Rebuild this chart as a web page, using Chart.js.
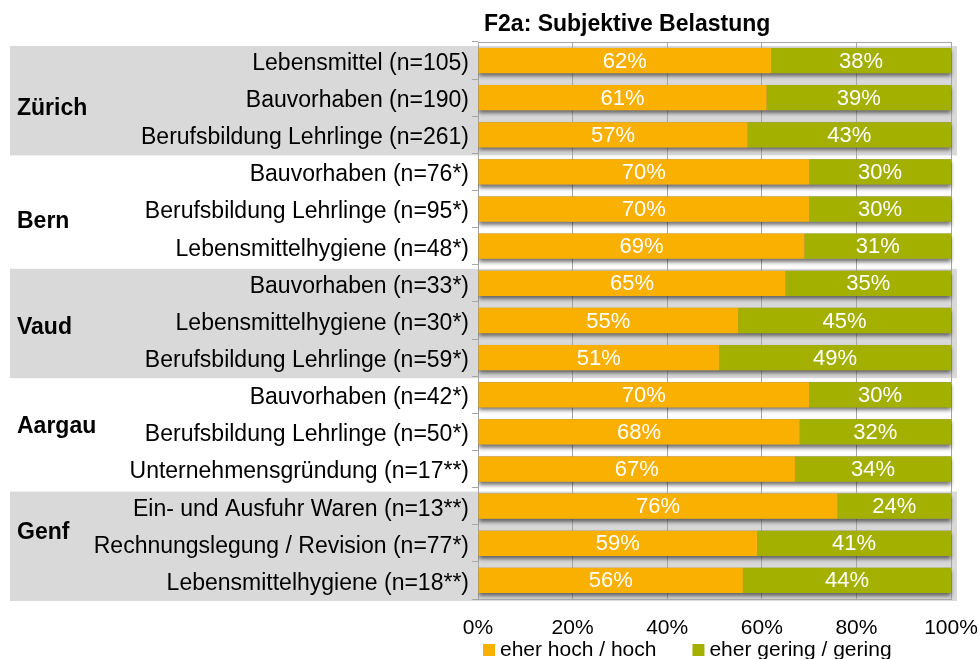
<!DOCTYPE html>
<html>
<head>
<meta charset="utf-8">
<script src="https://cdn.jsdelivr.net/npm/chart.js@4.4.1/dist/chart.umd.min.js"></script>
<style>
  html, body { margin: 0; padding: 0; background: #fff; }
  #wrap { width: 980px; height: 659px; }
</style>
</head>
<body>
<div id="wrap"><canvas id="chart" width="980" height="659"></canvas></div>
<script>
// data
const title = "F2a: Subjektive Belastung";
const groups = ["Zürich", "Bern", "Vaud", "Aargau", "Genf"];
const groupSizes = [3, 3, 3, 3, 3];
const categories = [
    "Lebensmittel (n=105)",
    "Bauvorhaben (n=190)",
    "Berufsbildung Lehrlinge (n=261)",
    "Bauvorhaben (n=76*)",
    "Berufsbildung Lehrlinge (n=95*)",
    "Lebensmittelhygiene (n=48*)",
    "Bauvorhaben (n=33*)",
    "Lebensmittelhygiene (n=30*)",
    "Berufsbildung Lehrlinge (n=59*)",
    "Bauvorhaben (n=42*)",
    "Berufsbildung Lehrlinge (n=50*)",
    "Unternehmensgründung (n=17**)",
    "Ein- und Ausfuhr Waren (n=13**)",
    "Rechnungslegung / Revision (n=77*)",
    "Lebensmittelhygiene (n=18**)",
];
const seriesNames = ["eher hoch / hoch", "eher gering / gering"];
const hochValues = [62, 61, 57, 70, 70, 69, 65, 55, 51, 70, 68, 67, 76, 59, 56];
const geringValues = [38, 39, 43, 30, 30, 31, 35, 45, 49, 30, 32, 34, 24, 41, 44];
const xTicks = [0, 20, 40, 60, 80, 100];

const ORANGE = "#F9B000";
const GREEN = "#A3B000";
const BAND = "#D9D9D9";
const GRID = "#A6A6A6";
const FONT = "'Liberation Sans', Arial, sans-serif";

// gray bands behind groups + group names
const bandsPlugin = {
    id: "bands",
    beforeDraw(chart) {
        const ctx = chart.ctx;
        const y = chart.scales.y;
        const step = y.getPixelForValue(1) - y.getPixelForValue(0);
        let start = 0;
        ctx.save();
        groups.forEach((g, gi) => {
            const n = groupSizes[gi];
            const top = y.getPixelForValue(start) - step / 2;
            const bottom = y.getPixelForValue(start + n - 1) + step / 2;
            if (gi % 2 === 0) {
                ctx.fillStyle = BAND;
                ctx.fillRect(10, top + 4, chart.chartArea.right + 6 - 10, bottom - top - 2);
            }
            start += n;
        });
        ctx.restore();
    },
    afterDraw(chart) {
        const ctx = chart.ctx;
        const y = chart.scales.y;
        const step = y.getPixelForValue(1) - y.getPixelForValue(0);
        // small nudges, the original labels are not exactly centred
        const nudge = [0.3, 0.35, 0.2, -0.15, -0.3];
        let start = 0;
        ctx.save();
        ctx.font = "bold 23px " + FONT;
        ctx.fillStyle = "#000";
        ctx.textBaseline = "middle";
        ctx.textAlign = "left";
        groups.forEach((g, gi) => {
            const n = groupSizes[gi];
            const mid = y.getPixelForValue(start + (n - 1) / 2) + nudge[gi] * step;
            ctx.fillText(g, 17, mid);
            start += n;
        });
        ctx.restore();
    },
};

// frame, bar shadows, value labels
const framePlugin = {
    id: "frame",
    beforeDatasetsDraw(chart) {
        const ctx = chart.ctx;
        const a = chart.chartArea;
        ctx.save();
        ctx.strokeStyle = GRID;
        ctx.lineWidth = 1;
        ctx.beginPath();
        ctx.moveTo(a.left, a.top + 0.5);
        ctx.lineTo(a.right + 0.5, a.top + 0.5);
        ctx.lineTo(a.right + 0.5, a.bottom);
        ctx.stroke();
        // shadow under each full bar
        const first = chart.getDatasetMeta(0).data;
        const last = chart.getDatasetMeta(1).data;
        ctx.beginPath();
        ctx.rect(a.left, a.top, a.right - a.left + 4, a.bottom - a.top);
        ctx.clip();
        ctx.shadowColor = "rgba(0,0,0,0.55)";
        ctx.shadowBlur = 4;
        ctx.shadowOffsetY = 3;
        ctx.fillStyle = "#888";
        first.forEach((bar, i) => {
            const h = bar.height;
            const left = bar.base;
            const right = Math.min(last[i].x, a.right);
            ctx.fillRect(left, bar.y - h / 2, right - left, h);
        });
        ctx.restore();
    },
    afterDatasetsDraw(chart) {
        const ctx = chart.ctx;
        ctx.save();
        ctx.font = "22px " + FONT;
        ctx.fillStyle = "#fff";
        ctx.textAlign = "center";
        ctx.textBaseline = "middle";
        chart.data.datasets.forEach((ds, di) => {
            chart.getDatasetMeta(di).data.forEach((bar, i) => {
                const right = Math.min(bar.x, chart.chartArea.right);
                const cx = (bar.base + right) / 2;
                ctx.fillText(ds.data[i] + "%", cx, bar.y + 1);
            });
        });
        ctx.restore();
    },
};

// title and legend drawn by hand to match the placement
const textPlugin = {
    id: "texts",
    afterDraw(chart) {
        const ctx = chart.ctx;
        const a = chart.chartArea;
        ctx.save();
        ctx.fillStyle = "#000";
        ctx.font = "bold 23px " + FONT;
        ctx.textBaseline = "middle";
        ctx.textAlign = "left";
        ctx.fillText(title, a.left + 6, 25);

        ctx.font = "21px " + FONT;
        let x = a.left + 5;
        const ly = 650;
        chart.data.datasets.forEach((ds) => {
            ctx.fillStyle = ds.backgroundColor;
            ctx.fillRect(x, ly - 6, 12, 12);
            ctx.fillStyle = "#000";
            ctx.fillText(ds.label, x + 17, ly);
            x += 17 + ctx.measureText(ds.label).width + 36;
        });
        ctx.restore();
    },
};

new Chart(document.getElementById("chart"), {
    type: "bar",
    data: {
        labels: categories,
        datasets: [
            { label: seriesNames[0], data: hochValues, backgroundColor: ORANGE },
            { label: seriesNames[1], data: geringValues, backgroundColor: GREEN },
        ],
    },
    options: {
        indexAxis: "y",
        responsive: false,
        animation: false,
        devicePixelRatio: 1,
        layout: { padding: { top: 42, right: 29, bottom: 0, left: 0 } },
        datasets: { bar: { categoryPercentage: 1, barPercentage: 0.68, borderWidth: 0 } },
        scales: {
            x: {
                stacked: true,
                min: 0,
                max: 100,
                afterBuildTicks: (s) => { s.ticks = xTicks.map((v) => ({ value: v })); },
                afterFit: (s) => { s.height = 60; s.paddingLeft = 0; s.paddingRight = 0; },
                grid: { color: GRID, drawTicks: false },
                border: { color: GRID },
                ticks: {
                    padding: 17,
                    color: "#000",
                    font: { family: FONT, size: 21 },
                    callback: (v) => v + "%",
                },
            },
            y: {
                stacked: true,
                afterFit: (s) => { s.width = 478; s.paddingTop = 0; s.paddingBottom = 0; },
                grid: { drawOnChartArea: false, tickLength: 6, color: GRID, offset: true },
                border: { color: GRID },
                ticks: {
                    padding: 3,
                    labelOffset: 3,
                    color: "#000",
                    font: { family: FONT, size: 23 },
                },
            },
        },
        plugins: {
            legend: { display: false },
            tooltip: { enabled: false },
        },
    },
    plugins: [bandsPlugin, framePlugin, textPlugin],
});
</script>
</body>
</html>
